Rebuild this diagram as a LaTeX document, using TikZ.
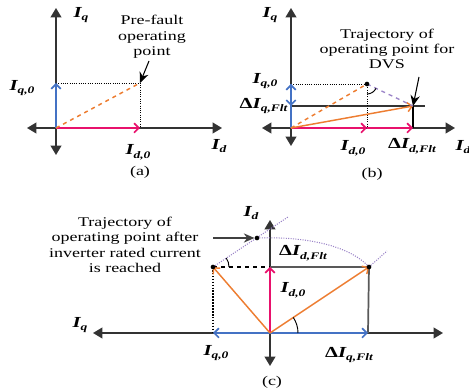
\documentclass[tikz,border=0pt]{standalone}
\usepackage{fontspec}
\setmainfont{Liberation Serif}[FakeStretch=1.35]
\usetikzlibrary{arrows.meta, positioning}
\definecolor{qblue}{HTML}{4472C4}
\definecolor{dpink}{HTML}{E8116C}
\definecolor{iorange}{HTML}{ED7D31}
\definecolor{tpurple}{HTML}{9B84C8}
\newcommand{\cur}[1]{{\bfseries\itshape I}\raisebox{-0.55ex}{\fontsize{7.5}{8}\selectfont\bfseries\itshape #1}}
\newcommand{\dcur}[1]{{\bfseries Δ}\cur{#1}}

\begin{document}
\begin{tikzpicture}[x=0.75pt, y=-0.75pt,
  axis/.style={draw=black!80, line width=1.4pt,
               {Triangle[length=7pt,width=8pt]}-{Triangle[length=7pt,width=8pt]}},
  vec/.style={line width=1.3pt, -{Straight Barb[length=3.5pt,width=7pt]}},
  guide/.style={densely dotted, line width=0.7pt},
  trj/.style={draw=tpurple, densely dotted, line width=0.8pt},
  note/.style={-{Stealth[length=8pt,width=7pt]}, line width=0.8pt},
  txt/.style={align=center, font=\fontsize{10}{11.5}\selectfont, inner sep=1pt},
  lbl/.style={font=\fontsize{11.5}{13}\selectfont, inner sep=1pt},
  dot/.style={circle, fill, inner sep=0pt, minimum size=3.5pt}]
  \useasboundingbox (0,0) rectangle (469,391);

  % (a)
  \coordinate (a0) at (56,128);
  \coordinate (aN) at (56,8);
  \coordinate (aS) at (56,155);
  \coordinate (aW) at (27,128);
  \coordinate (aE) at (222,128);
  \coordinate (aq) at (56,83);
  \coordinate (ad) at (140,128);
  \coordinate (ap) at (140,83);
  \draw[axis] (aS) -- (aN);
  \draw[axis] (aW) -- (aE);
  \draw[guide] (aq) -- (ap) -- (ad);
  \draw[vec, qblue] (a0) -- (aq);
  \draw[vec, dpink] (a0) -- (ad);
  \draw[iorange, dashed, line width=1.1pt] (a0) -- (ap);
  \node[txt] (aNote) at (152,37) {Pre-fault\\operating\\point};
  \coordinate (aTail) at (149,61);
  \draw[note] (aTail) -- (ap);
  \node[lbl] (aIq) at (81,15) {\cur{q}};
  \node[lbl] (aIq0) at (22,88) {\cur{q,0}};
  \node[lbl] (aId0) at (138,152) {\cur{d,0}};
  \node[lbl] (aId) at (219,146) {\cur{d}};
  \node[txt] (aCap) at (140,172) {(a)};

  % (b)
  \coordinate (b0) at (291,128);
  \coordinate (bN) at (291,8);
  \coordinate (bS) at (291,146);
  \coordinate (bW) at (262,128);
  \coordinate (bE) at (455,128);
  \coordinate (bq) at (291,84);
  \coordinate (bf) at (291,106);
  \coordinate (bp) at (367,84);
  \coordinate (bd) at (367,128);
  \coordinate (bD) at (413,128);
  \coordinate (bF) at (413,106);
  \coordinate (bH) at (425,106);
  \draw[axis] (bS) -- (bN);
  \draw[axis] (bW) -- (bE);
  \draw[black!80, line width=1.3pt] (bf) -- (bH);
  \draw[black, line width=1.6pt] (bF) -- (bD);
  \draw[guide] (bq) -- (bp) -- (bd);
  \draw[vec, qblue] (b0) -- (bq);
  \draw[vec, qblue] (bq) -- (bf);
  \draw[vec, dpink] (b0) -- (bd);
  \draw[vec, dpink] (bd) -- (bD);
  \draw[iorange, dashed, line width=1.1pt] (b0) -- (bp);
  \draw[vec, iorange, line width=1.1pt] (b0) -- (bF);
  \draw[tpurple, dashed, line width=1pt] (bp) -- (bF);
  \draw[line width=0.7pt] (bp) ++(0,10) arc[start angle=90, end angle=25.6, radius=10];
  \node[dot] (bpDot) at (bp) {};
  \node[txt] (bNote) at (387,49) {Trajectory of\\operating point for\\DVS};
  \coordinate (bTail) at (419,77);
  \draw[note] (bTail) -- (bF);
  \node[lbl] (bIq) at (270,15) {\cur{q}};
  \node[lbl] (bIq0) at (265,81) {\cur{q,0}};
  \node[lbl, anchor=east] (bdIq) at (289,106) {\dcur{q,Flt}};
  \node[lbl] (bId0) at (353,148) {\cur{d,0}};
  \node[lbl] (bdId) at (412,146) {\dcur{d,Flt}};
  \node[lbl] (bId) at (463,147) {\cur{d}};
  \node[txt] (bCap) at (372,174) {(b)};

  % (c)
  \coordinate (c0) at (270,333);
  \coordinate (cN) at (270,220);
  \coordinate (cS) at (270,366);
  \coordinate (cW) at (93,333);
  \coordinate (cE) at (443,333);
  \coordinate (cq) at (213,333);
  \coordinate (cQ) at (368,333);
  \coordinate (cd) at (270,267);
  \coordinate (cR) at (369,267);
  \coordinate (cL) at (213,267);
  \coordinate (cT) at (257,238);
  \coordinate (cTend) at (288,217);
  \coordinate (cRend) at (387,251);
  \draw[axis] (cS) -- (cN);
  \draw[axis] (cW) -- (cE);
  \draw[black!65, line width=1.3pt] (cd) -- (cR) -- (cQ);
  \draw[dashed, line width=0.9pt] (cL) -- (cd);
  \draw[densely dotted, line width=1.2pt] (cL) -- (cq);
  \draw[vec, qblue] (c0) -- (cq);
  \draw[vec, qblue] (c0) -- (cQ);
  \draw[vec, dpink] (c0) -- (cd);
  \draw[vec, iorange, line width=1.1pt] (c0) -- (cL);
  \draw[vec, iorange, line width=1.1pt] (c0) -- (cR);
  \draw[trj] (cL) -- (cTend);
  \draw[trj] (cT) .. controls (312,236) and (352,248) .. (cR);
  \draw[trj] (cR) -- (cRend);
  \draw[line width=0.7pt] (cL) ++(16,0) arc[start angle=0, end angle=-34, radius=16];
  \draw[line width=0.7pt] (c0) ++(28,0) arc[start angle=0, end angle=-33.7, radius=28];
  \node[dot] (cLDot) at (cL) {};
  \node[dot] (cRDot) at (cR) {};
  \node[dot] (cTDot) at (cT) {};
  \node[txt] (cNote) at (125,245) {Trajectory of\\operating point after\\inverter rated current\\is reached};
  \coordinate (cTail) at (213,238);
  \draw[note, black!75] (cTail) -- (cTDot);
  \node[lbl] (cIq) at (80,325) {\cur{q}};
  \node[lbl] (cId) at (251,213) {\cur{d}};
  \node[lbl] (cdId) at (303,253) {\dcur{d,Flt}};
  \node[lbl] (cId0) at (293,290) {\cur{d,0}};
  \node[lbl] (cIq0) at (216,353) {\cur{q,0}};
  \node[lbl] (cdIq) at (349,355) {\dcur{q,Flt}};
  \node[txt] (cCap) at (272,382) {(c)};
\end{tikzpicture}
\end{document}
